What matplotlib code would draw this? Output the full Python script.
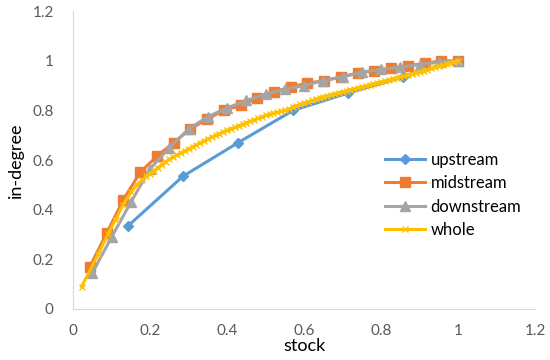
import matplotlib.pyplot as plt

# upstream / midstream / downstream / whole  (stock vs in-degree)
up_x = [1/7, 2/7, 3/7, 4/7, 5/7, 6/7, 1.0]
up_y = [0.335, 0.535, 0.67, 0.80, 0.87, 0.935, 1.0]

mid_x = [k / 23 for k in range(1, 24)]
mid_y = [0.17, 0.305, 0.44, 0.55, 0.615, 0.67, 0.725, 0.765, 0.80, 0.82, 0.85, 0.875,
         0.895, 0.91, 0.92, 0.935, 0.95, 0.96, 0.97, 0.98, 0.99, 1.0, 1.0]

down_x = [k / 20 for k in range(1, 21)]
down_y = [0.145, 0.29, 0.43, 0.565, 0.65, 0.725, 0.775, 0.81, 0.84, 0.865, 0.885, 0.90,
          0.92, 0.935, 0.955, 0.965, 0.975, 0.985, 0.995, 1.0]

whole_x = [0.022, 0.065, 0.09, 0.11, 0.13, 0.15, 0.165, 0.18, 0.19,
           0.20, 0.21, 0.22, 0.23, 0.24, 0.25, 0.26, 0.27, 0.28, 0.29,
           0.30, 0.31, 0.32, 0.33, 0.34, 0.35, 0.36, 0.37, 0.38, 0.39,
           0.40, 0.41, 0.42, 0.43, 0.44, 0.45, 0.46, 0.47, 0.48, 0.49,
           0.50, 0.51, 0.52, 0.53, 0.54, 0.55, 0.56, 0.57, 0.58, 0.59,
           0.60, 0.61, 0.62, 0.63, 0.64, 0.65, 0.66, 0.67, 0.68, 0.69,
           0.70, 0.71, 0.72, 0.73, 0.74, 0.75, 0.76, 0.77, 0.78, 0.79,
           0.80, 0.81, 0.82, 0.83, 0.84, 0.85, 0.86, 0.87, 0.88, 0.89,
           0.90, 0.91, 0.92, 0.93, 0.94, 0.95, 0.96, 0.97, 0.98, 0.99, 1.00]
whole_y = [0.09, 0.22, 0.30, 0.36, 0.42, 0.47, 0.50, 0.52, 0.535,
           0.545, 0.557, 0.569, 0.58, 0.592, 0.603, 0.612, 0.621, 0.629, 0.637,
           0.645, 0.653, 0.661, 0.669, 0.677, 0.685, 0.692, 0.699, 0.706, 0.713,
           0.72, 0.726, 0.732, 0.738, 0.744, 0.75, 0.756, 0.762, 0.768, 0.774,
           0.78, 0.784, 0.788, 0.792, 0.796, 0.80, 0.806, 0.812, 0.818, 0.824,
           0.83, 0.835, 0.84, 0.845, 0.85, 0.855, 0.859, 0.863, 0.867, 0.871,
           0.875, 0.879, 0.883, 0.887, 0.891, 0.895, 0.899, 0.903, 0.907, 0.911,
           0.915, 0.919, 0.923, 0.927, 0.931, 0.935, 0.939, 0.943, 0.947, 0.951,
           0.955, 0.96, 0.964, 0.969, 0.973, 0.978, 0.982, 0.987, 0.991, 0.996, 1.0]

plt.rcParams['font.family'] = ['Lato', 'DejaVu Sans']

fig = plt.figure(figsize=(5.5, 3.6), dpi=100)
ax = fig.add_axes([0.133, 0.142, 0.84, 0.827])

ax.plot(up_x, up_y, color='#5B9BD5', lw=2.2, marker='D', ms=5.5, label='upstream')
ax.plot(mid_x, mid_y, color='#ED7D31', lw=2.2, marker='s', ms=6.5, label='midstream')
ax.plot(down_x, down_y, color='#A5A5A5', lw=2.2, marker='^', ms=7.5, label='downstream')
ax.plot(whole_x, whole_y, color='#FFC000', lw=2.2, marker='x', ms=5, mew=1, label='whole')

ax.set_xlim(0, 1.2)
ax.set_ylim(0, 1.2)
ticks = [0, 0.2, 0.4, 0.6, 0.8, 1, 1.2]
labels = ['0', '0.2', '0.4', '0.6', '0.8', '1', '1.2']
ax.set_xticks(ticks)
ax.set_xticklabels(labels)
ax.set_yticks(ticks)
ax.set_yticklabels(labels)
ax.tick_params(axis='x', length=0, labelsize=11, colors='#595959', pad=11)
ax.tick_params(axis='y', length=0, labelsize=11, colors='#595959', pad=14)

for s in ['top', 'right']:
    ax.spines[s].set_visible(False)
for s in ['left', 'bottom']:
    ax.spines[s].set_color('#D9D9D9')

ax.set_xlabel('stock', fontsize=13, labelpad=0)
ax.set_ylabel('in-degree', fontsize=13, labelpad=6)

ax.legend(loc='upper left', bbox_to_anchor=(0.66, 0.55), frameon=False, fontsize=12,
          handlelength=2.4, labelspacing=0.45, handletextpad=0.35, borderaxespad=0)

fig.savefig('out.png')
